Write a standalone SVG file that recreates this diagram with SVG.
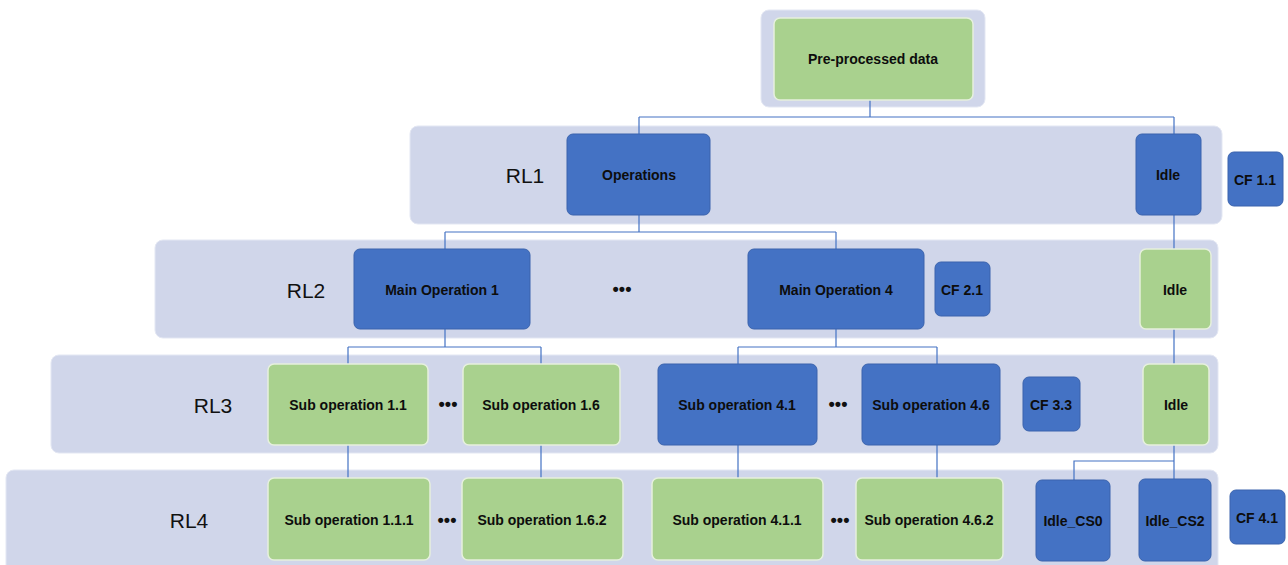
<svg xmlns="http://www.w3.org/2000/svg" width="1288" height="565" viewBox="0 0 1288 565">
<style>
.band{fill:#D0D6EA;stroke:#E3E7F3;stroke-width:1}
.blue{fill:#4472C4;stroke:#3A63AD;stroke-width:1}
.green{fill:#A9D18E;stroke:#E6F0DD;stroke-width:1.5}
.t{font-family:"Liberation Sans",Arial,sans-serif;font-weight:bold;font-size:14px;fill:#0D0D0D;text-anchor:middle;dominant-baseline:central}
.rl{font-family:"Liberation Sans",Arial,sans-serif;font-size:21px;fill:#111;text-anchor:middle;dominant-baseline:central}
.dots{font-family:"Liberation Sans",Arial,sans-serif;font-weight:bold;font-size:18px;fill:#111;text-anchor:middle;dominant-baseline:central}
.c{fill:none;stroke:#4472C4;stroke-width:1.2}
</style>
<g id="bands">
<rect class="band" x="761" y="10" width="224" height="97" rx="8"/>
<rect class="band" x="410" y="126" width="812" height="98" rx="8"/>
<rect class="band" x="155" y="240" width="1063" height="98" rx="8"/>
<rect class="band" x="51" y="355" width="1167" height="98" rx="8"/>
<rect class="band" x="6" y="470" width="1212" height="105" rx="8"/>
</g>
<g id="labels">
<text class="rl" x="525" y="175">RL1</text>
<text class="rl" x="306" y="290">RL2</text>
<text class="rl" x="213" y="405">RL3</text>
<text class="rl" x="189" y="520">RL4</text>
<text class="dots" x="622" y="289">•••</text>
<text class="dots" x="448" y="404">•••</text>
<text class="dots" x="838" y="404">•••</text>
<text class="dots" x="447" y="520">•••</text>
<text class="dots" x="840" y="520">•••</text>
</g>
<g id="connectors">
<path class="c" d="M870 100V117M639 117H1174M639 117V134M1174 117V134"/>
<path class="c" d="M639 215V232M445 232H836M445 232V249M836 232V249"/>
<path class="c" d="M1174 215V249"/>
<path class="c" d="M445 329V347M348 347H541M348 347V364M541 347V364"/>
<path class="c" d="M836 329V347M738 347H937M738 347V364M937 347V364"/>
<path class="c" d="M1174 329V364"/>
<path class="c" d="M348 445V478M541 445V478M738 445V478M937 445V478"/>
<path class="c" d="M1174 445V479M1174 461H1074V480"/>
</g>
<g id="n-pre"><rect class="green" x="774" y="18" width="199" height="82" rx="6"/><text class="t" x="873" y="59">Pre-processed data</text></g>
<g id="n-ops"><rect class="blue" x="567" y="134" width="143" height="81" rx="6"/><text class="t" x="639" y="175">Operations</text></g>
<g id="n-idle1"><rect class="blue" x="1136" y="134" width="65" height="81" rx="6"/><text class="t" x="1168" y="175">Idle</text></g>
<g id="n-cf11"><rect class="blue" x="1228" y="152" width="55" height="54" rx="6"/><text class="t" x="1255" y="180">CF 1.1</text></g>
<g id="n-main1"><rect class="blue" x="354" y="249" width="176" height="80" rx="6"/><text class="t" x="442" y="290">Main Operation 1</text></g>
<g id="n-main4"><rect class="blue" x="748" y="249" width="176" height="80" rx="6"/><text class="t" x="836" y="290">Main Operation 4</text></g>
<g id="n-cf21"><rect class="blue" x="935" y="262" width="55" height="54" rx="6"/><text class="t" x="962" y="290">CF 2.1</text></g>
<g id="n-idle2"><rect class="green" x="1140" y="249" width="71" height="80" rx="6"/><text class="t" x="1175" y="290">Idle</text></g>
<g id="n-sub11"><rect class="green" x="268" y="364" width="160" height="81" rx="6"/><text class="t" x="348" y="405">Sub operation 1.1</text></g>
<g id="n-sub16"><rect class="green" x="463" y="364" width="157" height="81" rx="6"/><text class="t" x="541" y="405">Sub operation 1.6</text></g>
<g id="n-sub41"><rect class="blue" x="658" y="364" width="159" height="81" rx="6"/><text class="t" x="737" y="405">Sub operation 4.1</text></g>
<g id="n-sub46"><rect class="blue" x="862" y="364" width="138" height="81" rx="6"/><text class="t" x="931" y="405">Sub operation 4.6</text></g>
<g id="n-cf33"><rect class="blue" x="1023" y="377" width="57" height="54" rx="6"/><text class="t" x="1051" y="405">CF 3.3</text></g>
<g id="n-idle3"><rect class="green" x="1143" y="364" width="66" height="81" rx="6"/><text class="t" x="1176" y="405">Idle</text></g>
<g id="n-sub111"><rect class="green" x="268" y="478" width="162" height="82" rx="6"/><text class="t" x="349" y="520">Sub operation 1.1.1</text></g>
<g id="n-sub162"><rect class="green" x="462" y="478" width="161" height="82" rx="6"/><text class="t" x="542" y="520">Sub operation 1.6.2</text></g>
<g id="n-sub411"><rect class="green" x="652" y="478" width="171" height="82" rx="6"/><text class="t" x="737" y="520">Sub operation 4.1.1</text></g>
<g id="n-sub462"><rect class="green" x="856" y="478" width="147" height="82" rx="6"/><text class="t" x="929" y="520">Sub operation 4.6.2</text></g>
<g id="n-cs0"><rect class="blue" x="1036" y="480" width="74" height="81" rx="6"/><text class="t" x="1073" y="521">Idle_CS0</text></g>
<g id="n-cs2"><rect class="blue" x="1139" y="479" width="72" height="82" rx="6"/><text class="t" x="1175" y="521">Idle_CS2</text></g>
<g id="n-cf41"><rect class="blue" x="1230" y="490" width="55" height="54" rx="6"/><text class="t" x="1257" y="518">CF 4.1</text></g>
</svg>
